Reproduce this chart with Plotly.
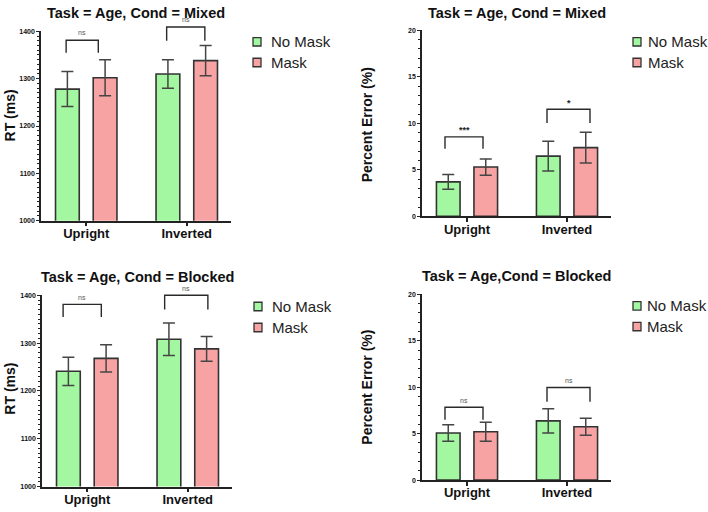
import plotly.graph_objects as go

# ---------------- data ----------------
categories = ["Upright", "Inverted"]
series_names = ["No Mask", "Mask"]

rt_mixed_nomask = [1278, 1310]
rt_mixed_nomask_err = [37, 30]
rt_mixed_mask = [1302, 1338]
rt_mixed_mask_err = [38, 32]

pe_mixed_nomask = [3.71, 6.47]
pe_mixed_nomask_err = [0.80, 1.60]
pe_mixed_mask = [5.30, 7.39]
pe_mixed_mask_err = [0.87, 1.65]

rt_blocked_nomask = [1241, 1308]
rt_blocked_nomask_err = [29.5, 34]
rt_blocked_mask = [1268, 1288]
rt_blocked_mask_err = [28.5, 26]

pe_blocked_nomask = [5.07, 6.38]
pe_blocked_nomask_err = [0.90, 1.30]
pe_blocked_mask = [5.21, 5.74]
pe_blocked_mask_err = [1.03, 0.92]

# significance labels and bracket levels (top, end of legs, label level)
sig_mixed_rt = ["ns", "ns"]
sig_mixed_pe = ["***", "*"]
sig_blocked_rt = ["ns", "ns"]
sig_blocked_pe = ["ns", "ns"]
bracket_mixed_rt = [(1381, 1355, 1397), (1409, 1380, 1425)]
bracket_mixed_pe = [(8.55, 7.28, 9.33), (11.52, 10.03, 12.2)]
bracket_blocked_rt = [(1381, 1354.5, 1396), (1400, 1370, 1414)]
bracket_blocked_pe = [(7.84, 6.5, 8.6), (9.96, 8.44, 10.7)]

titles = ["Task = Age, Cond = Mixed", "Task = Age, Cond = Mixed",
          "Task = Age, Cond = Blocked", "Task = Age,Cond = Blocked"]
ytitles = ["RT (ms)", "Percent Error (%)", "RT (ms)", "Percent Error (%)"]
rt_ticks = [1000, 1100, 1200, 1300, 1400]
pe_ticks = [0, 5, 10, 15, 20]

# ---------------- style ----------------
FONT = "Liberation Sans, Arial, Helvetica, sans-serif"
GREEN = "#a3f7a0"
RED = "#f8a3a3"
COLORS = [GREEN, RED]
EDGE = "#333333"
ERRC = "#454545"
AX = "#222222"
W, H = 708, 512

# panel geometry in px: (x_left, x_right, y_top, y_bottom)
panels = [
    (41, 231, 27.7, 219.7),
    (422, 611, 26.7, 215.3),
    (42, 232, 295.3, 489.3),
    (422, 611, 294.3, 482.7),
]
# bracket x offsets (category units) per panel
br_off = [
    [(-0.20, 0.12), (-0.20, 0.18)],
    [(-0.22, 0.16), (-0.20, 0.23)],
    [(-0.24, 0.14), (-0.23, 0.20)],
    [(-0.22, 0.16), (-0.20, 0.23)],
]
# legend: square centre x, first row y, row step, text start x
legend_pos = [(257, 38.3, 21, 269), (637, 38.3, 21, 646),
              (258, 306.7, 21.3, 270), (637, 306, 21, 645)]
title_y = [9.3, 9.0, 276.7, 276.0]
ytitle_pos = [(10, 113), (367, 123), (10, 390), (367, 389)]

panel_data = [
    (rt_mixed_nomask, rt_mixed_nomask_err, rt_mixed_mask, rt_mixed_mask_err,
     sig_mixed_rt, bracket_mixed_rt, (1000, 1400), rt_ticks, 10),
    (pe_mixed_nomask, pe_mixed_nomask_err, pe_mixed_mask, pe_mixed_mask_err,
     sig_mixed_pe, bracket_mixed_pe, (0, 20), pe_ticks, 1),
    (rt_blocked_nomask, rt_blocked_nomask_err, rt_blocked_mask, rt_blocked_mask_err,
     sig_blocked_rt, bracket_blocked_rt, (1000, 1400), rt_ticks, 10),
    (pe_blocked_nomask, pe_blocked_nomask_err, pe_blocked_mask, pe_blocked_mask_err,
     sig_blocked_pe, bracket_blocked_pe, (0, 20), pe_ticks, 1),
]

fig = go.Figure()
layout = dict(
    width=W, height=H, margin=dict(l=0, r=0, t=0, b=0),
    paper_bgcolor="white", plot_bgcolor="white",
    barmode="group", bargap=0.25, bargroupgap=0.37,
    font=dict(family=FONT, color="#111"),
    showlegend=False,
)
shapes = []
annotations = []

for i, (g, ge, r, re_, sig, brk, yr, ticks, minor_dt) in enumerate(panel_data):
    n = i + 1
    xa = "x" if n == 1 else f"x{n}"
    ya = "y" if n == 1 else f"y{n}"
    for name, vals, errs, col in [(series_names[0], g, ge, GREEN), (series_names[1], r, re_, RED)]:
        fig.add_trace(go.Bar(
            x=categories, y=vals, name=name, xaxis=xa, yaxis=ya,
            marker=dict(color=col, line=dict(color=EDGE, width=1.6)),
            error_y=dict(type="data", array=errs, color=ERRC, thickness=1.5, width=6),
        ))
    xl, xr, yt, yb = panels[i]
    layout[f"xaxis{'' if n == 1 else n}"] = dict(
        domain=[xl / W, xr / W], anchor=ya, type="category",
        range=[-0.45, 1.44], showline=True, linecolor=AX, linewidth=1.5,
        ticks="outside", ticklen=4, tickwidth=1.5, tickcolor=AX,
        tickfont=dict(size=13, weight="bold", color="#111"),
        ticklabelstandoff=-4,
        showgrid=False, zeroline=False, fixedrange=True,
    )
    layout[f"yaxis{'' if n == 1 else n}"] = dict(
        domain=[1 - yb / H, 1 - yt / H], anchor=xa, range=list(yr),
        tickvals=ticks, showline=True, linecolor=AX, linewidth=1.5,
        ticks="outside", ticklen=3, tickwidth=1.2, tickcolor=AX,
        tickfont=dict(size=7, weight="bold", color="#111"),
        minor=dict(dtick=minor_dt, ticks="outside", ticklen=2, tickcolor=AX, tickwidth=1),
        showgrid=False, zeroline=False, fixedrange=True,
    )
    # brackets
    lo, hi = yr
    for c in range(2):
        top, leg_end, lab = brk[c]
        x0 = c + br_off[i][c][0]
        x1 = c + br_off[i][c][1]
        t = (top - lo) / (hi - lo)
        e = (leg_end - lo) / (hi - lo)
        shapes.append(dict(
            type="path", xref=xa, yref=f"{ya} domain",
            path=f"M {x0},{e} L {x0},{t} L {x1},{t} L {x1},{e}",
            line=dict(color="#2a2a2a", width=1.4),
        ))
        bold = sig[c] != "ns"
        annotations.append(dict(
            x=(x0 + x1) / 2, y=(lab - lo) / (hi - lo), xref=xa, yref=f"{ya} domain",
            text=sig[c], showarrow=False,
            font=dict(size=9 if bold else 7, color="#222" if bold else "#555",
                      weight="bold" if bold else "normal"),
            xanchor="center", yanchor="middle",
        ))
    # title
    annotations.append(dict(
        x=(xl + xr) / 2 / W, y=1 - title_y[i] / H, xref="paper", yref="paper",
        text=titles[i], showarrow=False, xanchor="center", yanchor="middle",
        font=dict(size=14.5, weight="bold", color="#111"),
    ))
    # y title
    tx, ty = ytitle_pos[i]
    annotations.append(dict(
        x=tx / W, y=1 - ty / H, xref="paper", yref="paper", text=ytitles[i],
        showarrow=False, textangle=-90, xanchor="center", yanchor="middle",
        font=dict(size=14, weight="bold", color="#111"),
    ))
    # legend (drawn as keys + labels)
    sx, sy, step, tx0 = legend_pos[i]
    for k, name in enumerate(series_names):
        cy = sy + k * step
        shapes.append(dict(
            type="rect", xref="paper", yref="paper",
            x0=(sx - 4) / W, x1=(sx + 4) / W, y0=1 - (cy + 4.3) / H, y1=1 - (cy - 4.3) / H,
            fillcolor=COLORS[k], line=dict(color="#333", width=1.3),
        ))
        annotations.append(dict(
            x=tx0 / W, y=1 - cy / H, xref="paper", yref="paper", text=name,
            showarrow=False, xanchor="left", yanchor="middle",
            font=dict(size=15, color="#222"),
        ))

layout["shapes"] = shapes
layout["annotations"] = annotations
fig.update_layout(**layout)
fig.write_html("out.html", config={"displayModeBar": False},
               post_script="document.body.style.margin='0';")
